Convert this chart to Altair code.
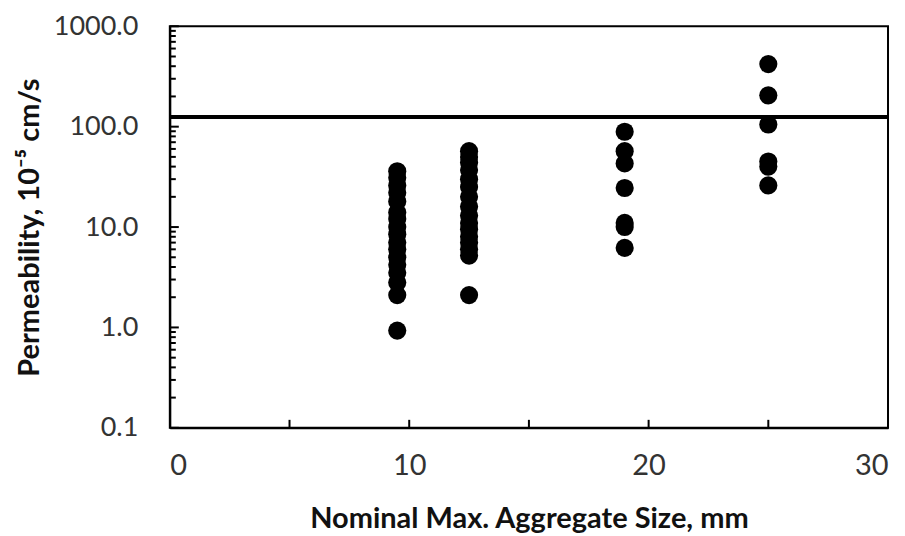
import altair as alt
import pandas as pd

# Data
size_9_5 = [36, 31, 26, 22, 18, 14, 12, 10, 8.5, 7, 6, 5, 4.2, 3.5, 2.8, 2.1, 0.93]
size_12_5 = [57, 50, 44, 37, 30, 25, 20, 16, 13, 11, 9.5, 8, 7, 6, 5.2, 2.1]
size_19 = [89, 57, 43, 24.5, 11, 10, 6.2]
size_25 = [420, 205, 105, 45, 40, 26]
limit_value = 125

y_major = [0.1, 1, 10, 100, 1000]
y_minor = [m * d for d in [0.1, 1, 10, 100] for m in range(2, 10)]
x_ticks = [5, 10, 15, 20, 25]
x_labels = [0, 10, 20, 30]

rows = []
for s, vals in [(9.5, size_9_5), (12.5, size_12_5), (19, size_19), (25, size_25)]:
    for v in vals:
        rows.append({"size": s, "perm": v})
df = pd.DataFrame(rows)

W, H = 719, 402
FONT = "Lato"

xscale = alt.Scale(domain=[0, 30], nice=False, zero=False)
yscale = alt.Scale(type="log", domain=[0.1, 1000], nice=False)

points = alt.Chart(df).mark_circle(size=330, color="black", opacity=1).encode(
    x=alt.X("size:Q", scale=xscale,
            axis=alt.Axis(values=x_labels, ticks=False, grid=False, domainColor="black",
                          domainWidth=2, labelFontSize=29, labelPadding=24,
                          labelColor="#333", labelFont=FONT,
                          title="Nominal Max. Aggregate Size, mm", titleFontSize=29,
                          titleFont=FONT, titleFontWeight="bold", titleColor="#111",
                          titleY=100, titleBaseline="alphabetic")),
    y=alt.Y("perm:Q", scale=yscale,
            axis=alt.Axis(values=y_major, format=".1f", ticks=False, grid=False,
                          domainColor="black", domainWidth=2, labelFontSize=27,
                          labelPadding=32, labelColor="#333", labelFont=FONT,
                          title="Permeability, 10⁻⁵ cm/s", titleFontSize=29,
                          titleFont=FONT, titleFontWeight="bold", titleColor="#111",
                          titleX=-140, titleY=H / 2, titleBaseline="middle",
                          titleAngle=270)),
)

hline = alt.Chart(pd.DataFrame({"y": [limit_value]})).mark_rule(
    color="black", strokeWidth=4).encode(y=alt.Y("y:Q", scale=yscale))

ymaj = alt.Chart(pd.DataFrame({"y": y_major})).mark_rule(
    color="black", strokeWidth=2).encode(
    y=alt.Y("y:Q", scale=yscale), x=alt.value(0), x2=alt.value(9))

ymin = alt.Chart(pd.DataFrame({"y": y_minor})).mark_rule(
    color="black", strokeWidth=2).encode(
    y=alt.Y("y:Q", scale=yscale), x=alt.value(0), x2=alt.value(6))

xt = alt.Chart(pd.DataFrame({"x": x_ticks})).mark_rule(
    color="black", strokeWidth=2).encode(
    x=alt.X("x:Q", scale=xscale), y=alt.value(H), y2=alt.value(H - 8))

chart = alt.layer(hline, ymin, ymaj, xt, points).properties(
    width=W, height=H,
    autosize=alt.AutoSizeParams(type="none"),
    padding={"left": 162, "top": 18, "right": 9, "bottom": 106},
    background="white",
).configure_view(stroke="black", strokeWidth=2)

chart.save("out.html", embed_options={"renderer": "svg", "actions": False})
